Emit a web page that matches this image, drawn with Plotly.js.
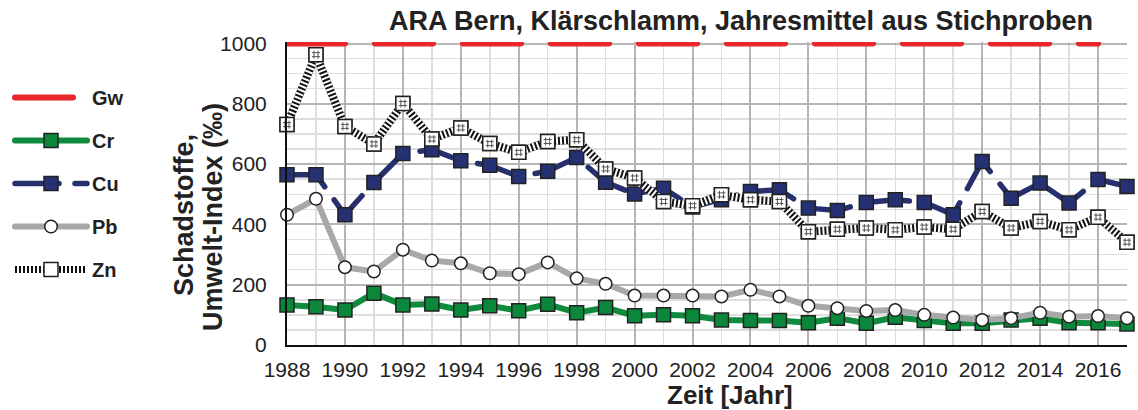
<!DOCTYPE html>
<html><head><meta charset="utf-8">
<script src="https://cdn.plot.ly/plotly-3.0.1.min.js"></script>
<style>html,body{margin:0;padding:0;background:#fff}#chart{width:1138px;height:410px}</style>
</head><body><div id="chart"></div>
<script>
const years = [1988,1989,1990,1991,1992,1993,1994,1995,1996,1997,1998,1999,2000,2001,2002,2003,2004,2005,2006,2007,2008,2009,2010,2011,2012,2013,2014,2015,2016,2017];
const gwYears = [1988,1989,1990,1991,1992,1993,1994,1995,1996,1997,1998,1999,2000,2001,2002,2003,2004,2005,2006,2007,2008,2009,2010,2011,2012,2013,2014,2015,2016];
const gw = [1000,1000,1000,1000,1000,1000,1000,1000,1000,1000,1000,1000,1000,1000,1000,1000,1000,1000,1000,1000,1000,1000,1000,1000,1000,1000,1000,1000,1000];
const cr = [133,127,116,172,133,136,116,130,114,135,107,124,97,100,97,83,81,81,74,89,72,92,81,72,72,83,89,74,74,70];
const cu = [565,565,432,539,635,648,611,596,559,576,622,540,501,520,458,482,509,515,454,446,473,482,473,432,609,487,537,471,549,526];
const pb = [432,485,258,244,316,280,271,238,235,274,221,203,164,164,164,161,183,161,130,122,113,116,100,91,83,89,107,94,96,89];
const zn = [731,963,725,667,801,683,720,668,639,675,681,584,554,476,462,498,482,476,376,384,388,382,391,384,443,388,410,382,424,341];
const names = ['Gw','Cr','Cu','Pb','Zn'];
const titleText = 'ARA Bern, Klärschlamm, Jahresmittel aus Stichproben';
const yTitle1 = 'Schadstoffe,';
const yTitle2 = 'Umwelt-Index (‰)';
const xTitle = 'Zeit [Jahr]';

const FONT = 'Liberation Sans, Arial, sans-serif';
const border = '#222222';

const traces = [
  {x: gwYears, y: gw, name: names[0], mode: 'lines', legendrank: 1, legendgroup: 'g1',
   line: {color: '#e8262b', width: 6, dash: '58px,30px'}},
  {x: years, y: cr, name: names[1], mode: 'lines+markers', legendrank: 2, legendgroup: 'g2', cliponaxis: false,
   line: {color: '#0e8b3d', width: 6},
   marker: {symbol: 'square', size: 14, color: '#0a873a', line: {color: border, width: 1.5}}},
  {x: years, y: pb, name: names[3], mode: 'lines+markers', legendrank: 4, legendgroup: 'g4', cliponaxis: false,
   line: {color: '#a8a8a8', width: 6},
   marker: {symbol: 'circle', size: 12.5, color: '#ffffff', line: {color: border, width: 1.5}}},
  {x: years, y: cu, name: names[2], mode: 'lines+markers', legendrank: 3, legendgroup: 'g3', cliponaxis: false,
   line: {color: '#26306f', width: 5.5, dash: '44px,16px'},
   marker: {symbol: 'square', size: 14, color: '#253173', line: {color: border, width: 1.5}}},
  {x: years, y: zn, name: names[4], mode: 'lines+markers', legendrank: 5, legendgroup: 'g5', cliponaxis: false,
   line: {color: '#111111', width: 8},
   marker: {symbol: 'square', size: 14, color: '#ffffff', line: {color: border, width: 1.5}}},
  {x: years, y: zn, mode: 'lines', showlegend: false, hoverinfo: 'skip', cliponaxis: false,
   line: {color: '#ffffff', width: 8, dash: '2px,2px'}},
  {x: years, y: zn, mode: 'markers', showlegend: false, hoverinfo: 'skip', cliponaxis: false,
   marker: {symbol: 'square', size: 14, color: '#ffffff', line: {color: border, width: 1.5}}},
  {x: years, y: zn, mode: 'markers', showlegend: false, hoverinfo: 'skip', cliponaxis: false,
   marker: {symbol: 'hash-open', size: 8, color: '#555555', line: {color: '#555555', width: 1}}}
];

const layout = {
  width: 1138, height: 410,
  margin: {l: 286, r: 11, t: 42, b: 65, pad: 0},
  paper_bgcolor: '#ffffff', plot_bgcolor: '#ffffff',
  font: {family: FONT, color: '#222222', size: 21},
  showlegend: true,
  title: {text: titleText, x: 741/1138, xref: 'container', xanchor: 'center',
          y: 1 - 21/410, yref: 'container', yanchor: 'middle',
          font: {family: FONT, size: 27, weight: 700, color: '#222222'}},
  xaxis: {range: [1988, 2017], tick0: 1988, dtick: 2, showgrid: true, gridcolor: '#b5b5b5', gridwidth: 2,
          minor: {dtick: 1, tick0: 1988, showgrid: true, gridcolor: '#dedede', gridwidth: 1.5},
          showline: true, linecolor: '#111111', linewidth: 2, ticks: '', zeroline: false,
          tickfont: {family: FONT, size: 21, color: '#222222'}, ticklabelstandoff: 5, fixedrange: true},
  yaxis: {range: [0, 1005], tick0: 0, dtick: 200, showgrid: true, gridcolor: '#b5b5b5', gridwidth: 2,
          minor: {dtick: 50, tick0: 0, showgrid: true, gridcolor: '#dedede', gridwidth: 1.5},
          showline: true, linecolor: '#111111', linewidth: 2, ticks: '', zeroline: false,
          tickfont: {family: FONT, size: 21, color: '#222222'}, ticklabelstandoff: 14, fixedrange: true},
  legend: {x: (10-286)/841, xanchor: 'left', y: (345-78)/303, yanchor: 'top', itemwidth: 72,
           tracegroupgap: 14, bgcolor: 'rgba(0,0,0,0)', traceorder: 'grouped',
           font: {family: FONT, size: 20, weight: 700, color: '#222222'}},
  annotations: [
    {text: yTitle1, xref: 'paper', yref: 'paper', x: (183-286)/841, y: (345-215)/303, textangle: -90,
     showarrow: false, xanchor: 'center', yanchor: 'middle', font: {family: FONT, size: 27, weight: 700, color: '#222222'}},
    {text: yTitle2, xref: 'paper', yref: 'paper', x: (212-286)/841, y: (345-217)/303, textangle: -90,
     showarrow: false, xanchor: 'center', yanchor: 'middle', font: {family: FONT, size: 27, weight: 700, color: '#222222'}},
    {text: xTitle, xref: 'paper', yref: 'paper', x: (730-286)/841, y: (345-395)/303,
     showarrow: false, xanchor: 'center', yanchor: 'middle', font: {family: FONT, size: 26, weight: 700, color: '#222222'}}
  ]
};

Plotly.newPlot('chart', traces, layout, {staticPlot: true, displayModeBar: false}).then(function(gd){
  var tr = gd.querySelectorAll('.scatterlayer .trace');
  tr.forEach(function(t, i){
    if (i <= 4) {
      t.querySelectorAll('path.js-line').forEach(function(p){
        p.style.strokeLinecap = 'round';
        p.style.strokeLinejoin = 'round';
      });
    }
  });
  gd.querySelectorAll('.legend .traces').forEach(function(item){
    var txt = item.querySelector('text.legendtext');
    var isZn = txt && txt.textContent === names[4];
    item.querySelectorAll('path.js-line').forEach(function(p){
      if (isZn) {
        p.style.strokeDasharray = '2px,2px';
        p.style.strokeWidth = '7px';
      } else {
        p.style.strokeLinecap = 'round';
      }
    });
  });
});
</script>
</body></html>
